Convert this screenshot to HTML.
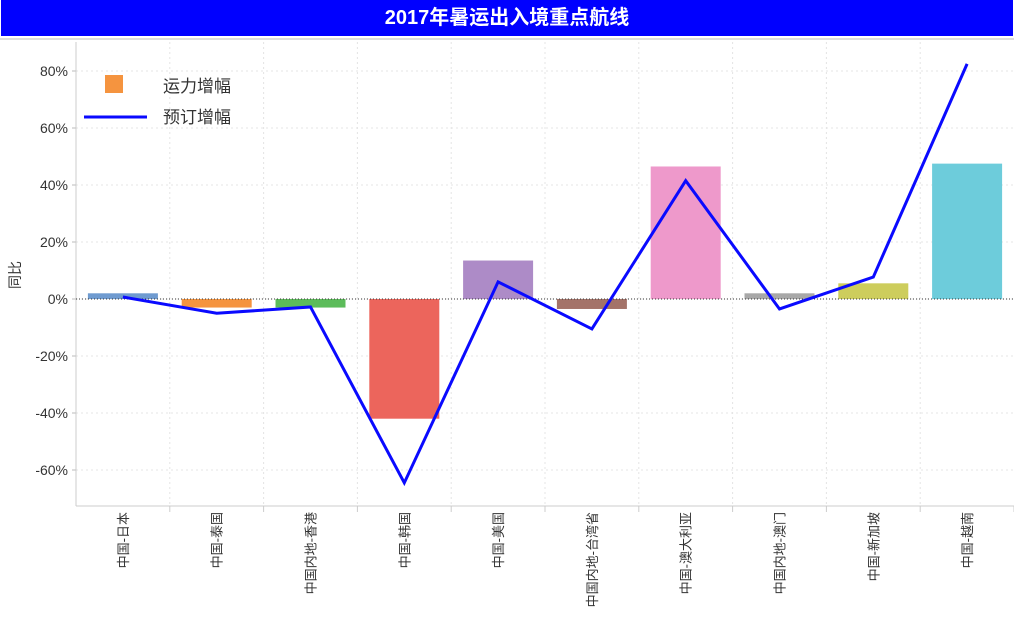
<!DOCTYPE html>
<html><head><meta charset="utf-8"><style>
body{margin:0;width:1014px;height:639px;background:#fff;overflow:hidden;font-family:"Liberation Sans","Noto Sans CJK SC",sans-serif}
#title{position:absolute;left:1px;top:0;width:1012px;height:36px;background:#0000ff;color:#fff;font-weight:bold;font-size:20px;line-height:36px;text-align:center}
#sep{position:absolute;left:0;top:38px;width:1014px;height:2px;background:#ddd}
</style></head><body>
<div id="title">2017年暑运出入境重点航线</div>
<div id="sep"></div>
<svg id="chart" width="1014" height="639" style="position:absolute;left:0;top:0"></svg>
<script>
const categories=["中国-日本","中国-泰国","中国内地-香港","中国-韩国","中国-美国","中国内地-台湾省","中国-澳大利亚","中国内地-澳门","中国-新加坡","中国-越南"];
const capacity=[2,-3,-3,-42,13.5,-3.5,46.5,2,5.5,47.5];
const booking=[0.7,-5,-2.8,-64.5,6,-10.5,41.5,-3.5,7.7,82.5];
const ticks=[-60,-40,-20,0,20,40,60,80];
const colors=["#6f9bd0","#f5943f","#5cbc5a","#ec655c","#ad8bc7","#a47369","#ee99cb","#a8a8a8","#cdcd5c","#6dccdb"];
const NS="http://www.w3.org/2000/svg",svg=document.getElementById('chart');
const x0=76,x1=1014,bw=(x1-x0)/categories.length;
const y=v=>299-v*2.85;
const xc=i=>x0+bw*(i+0.5);
function mk(t,a){const e=document.createElementNS(NS,t);for(const k in a)e.setAttribute(k,a[k]);svg.appendChild(e);return e;}
ticks.forEach(t=>{
 const g=mk('line',{x1:x0,x2:x1,y1:y(t),y2:y(t),stroke:'#e4e4e4','stroke-dasharray':'2,3'});
 
 
 mk('line',{x1:x0-4,x2:x0,y1:y(t),y2:y(t),stroke:'#bbb'});
 const l=mk('text',{x:x0-8,y:y(t)+5,'text-anchor':'end','font-size':14,fill:'#333'});
 l.textContent=t+'%';
 
 
});
for(let i=1;i<categories.length;i++){mk('line',{x1:x0+bw*i,x2:x0+bw*i,y1:42,y2:506,stroke:'#e4e4e4','stroke-dasharray':'2,3'});}
mk('line',{x1:x0,x2:x0,y1:42,y2:506,stroke:'#ccc'});
mk('line',{x1:x0,x2:x1,y1:506,y2:506,stroke:'#ccc'});
capacity.forEach((v,i)=>{
 const r=mk('rect',{x:xc(i)-35,width:70,y:Math.min(y(v),y(0)),height:Math.abs(y(v)-y(0)),fill:colors[i]});
 
 
 mk('line',{x1:x0+bw*i,x2:x0+bw*(i+1),y1:506,y2:506,stroke:'#ccc'});
 mk('line',{x1:x0+bw*(i+1),x2:x0+bw*(i+1),y1:506,y2:512,stroke:'#ccc'});
 const t=mk('text',{transform:`translate(${xc(i)+5},512) rotate(-90)`,'text-anchor':'end','font-size':13,fill:'#333'});
 t.textContent=categories[i];
 
 
});
mk('line',{x1:x0,x2:x1,y1:y(0),y2:y(0),stroke:'#333','stroke-dasharray':'1,2'});
const ln=mk('polyline',{points:booking.map((v,i)=>xc(i)+','+y(v)).join(' '),fill:'none',stroke:'#0a0aff','stroke-width':3});


const yt=mk('text',{transform:'translate(20,275) rotate(-90)','text-anchor':'middle','font-size':14,fill:'#333'});
yt.textContent='同比';


const sw=mk('rect',{x:105,y:75,width:18,height:18,fill:'#f5943f'});


const l1=mk('text',{x:163,y:92,'font-size':17,fill:'#333'});l1.textContent='运力增幅';


mk('line',{x1:84,x2:147,y1:117,y2:117,stroke:'#0a0aff','stroke-width':3});
const l2=mk('text',{x:163,y:123,'font-size':17,fill:'#333'});l2.textContent='预订增幅';


</script>
</body></html>
